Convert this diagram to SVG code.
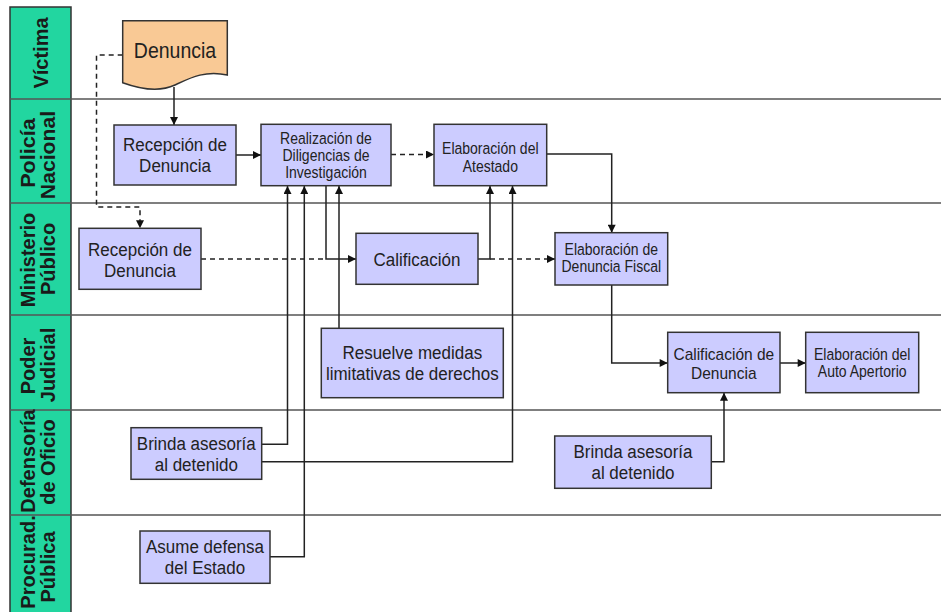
<svg xmlns="http://www.w3.org/2000/svg" width="941" height="612" viewBox="0 0 941 612">
<defs>
<style>
.lane{stroke:#555;stroke-width:1.5;fill:none}
.lbl{font-family:"Liberation Sans",Arial,sans-serif;font-weight:bold;font-size:20px;fill:#1a1a1a;text-anchor:middle}
.box{fill:#ccccff;stroke:#333;stroke-width:1.5}
.t{font-family:"Liberation Sans",Arial,sans-serif;fill:#222;text-anchor:middle}
.c{stroke:#222;stroke-width:1.5;fill:none}
.a{marker-end:url(#arr)}
.d{stroke-dasharray:5 4}
</style>
<marker id="arr" viewBox="0 0 10 10" refX="10" refY="5" markerWidth="10" markerHeight="8" markerUnits="userSpaceOnUse" orient="auto">
<path d="M0,0 L10,5 L0,10 z" fill="#111"/>
</marker>
</defs>
<rect width="941" height="612" fill="#fff"/>
<g id="lanes">
<rect x="10" y="7" width="61" height="610" fill="#22d6a0" stroke="#333" stroke-width="1.5"/>
<path class="lane" d="M10,99 H941 M10,203 H941 M10,315 H941 M10,410 H941 M10,515 H941"/>
<text class="lbl" transform="translate(48,53) rotate(-90)">Víctima</text>
<text class="lbl" transform="translate(35,153) rotate(-90) scale(1.08,1)">Policía</text>
<text class="lbl" transform="translate(55,155) rotate(-90) scale(1.06,1)">Nacional</text>
<text class="lbl" transform="translate(35,260) rotate(-90)">Ministerio</text>
<text class="lbl" transform="translate(55,259) rotate(-90)">Público</text>
<text class="lbl" transform="translate(35,366) rotate(-90)">Poder</text>
<text class="lbl" transform="translate(55,365) rotate(-90)">Judicial</text>
<text class="lbl" transform="translate(35,461) rotate(-90)">Defensoría</text>
<text class="lbl" transform="translate(55,462) rotate(-90)">de Oficio</text>
<text class="lbl" transform="translate(35,562) rotate(-90)">Procurad.</text>
<text class="lbl" transform="translate(55,567) rotate(-90)">Pública</text>
</g>
<g id="connectors">
<path class="c a" d="M174,87 V125"/>
<path class="c d a" d="M122.7,55 H96.5 V207 H140 V228.3"/>
<path class="c a" d="M236,155 H261"/>
<path class="c d a" d="M391,154.5 H434"/>
<path class="c a" d="M546.7,154 H611.7 V232.7"/>
<path class="c d" d="M201,259 H326"/>
<path class="c a" d="M326,186 V259 H356"/>
<path class="c a" d="M478,259 H490 V186"/>
<path class="c d a" d="M490,259 H555"/>
<path class="c a" d="M611.7,285 V363 H667.7"/>
<path class="c a" d="M780,363 H805.7"/>
<path class="c a" d="M711.3,461.7 H724 V392.7"/>
<path class="c a" d="M261.7,444.3 H287.5 V186"/>
<path class="c a" d="M261.7,461.7 H512.5 V186"/>
<path class="c a" d="M270,556.7 H304.3 V186"/>
<path class="c a" d="M339,328.3 V186"/>
</g>
<g id="denuncia">
<path d="M122.7,20.7 H227.3 V75 C205,70 190,78 175,85 C160,92 140,89 122.7,82.7 Z" fill="#f9c995" stroke="#333" stroke-width="1.5"/>
<text class="t" x="175" y="57" font-size="19.5" transform="matrix(1,0,0,1.12,0,-6)">Denuncia</text>
</g>
<g id="recepcion-policia">
<rect class="box" x="114" y="125" width="122" height="60"/>
<text class="t" font-size="17" transform="matrix(1,0,0,1.12,0,-18.6)"><tspan x="175" y="151.5">Recepción de</tspan><tspan x="175" y="170.5">Denuncia</tspan></text>
</g>
<g id="realizacion">
<rect class="box" x="261" y="124.3" width="130" height="61.4"/>
<text class="t" font-size="14" transform="matrix(1,0,0,1.12,0,-18.6)"><tspan x="326" y="145.5">Realización de</tspan><tspan x="326" y="160.5">Diligencias de</tspan><tspan x="326" y="175.5">Investigación</tspan></text>
</g>
<g id="atestado">
<rect class="box" x="434" y="124.3" width="112.7" height="61.4"/>
<text class="t" font-size="14" transform="matrix(1,0,0,1.12,0,-18.6)"><tspan x="490.3" y="154.5">Elaboración del</tspan><tspan x="490.3" y="170">Atestado</tspan></text>
</g>
<g id="recepcion-ministerio">
<rect class="box" x="79" y="228.3" width="122" height="61"/>
<text class="t" font-size="17" transform="matrix(1,0,0,1.12,0,-31.06)"><tspan x="140" y="256">Recepción de</tspan><tspan x="140" y="275">Denuncia</tspan></text>
</g>
<g id="calificacion">
<rect class="box" x="356" y="233.3" width="122" height="51"/>
<text class="t" x="417" y="265" font-size="17" transform="matrix(1,0,0,1.12,0,-31.06)">Calificación</text>
</g>
<g id="denuncia-fiscal">
<rect class="box" x="555" y="232.7" width="112.7" height="52.3"/>
<text class="t" font-size="14" transform="matrix(1,0,0,1.12,0,-31.06)"><tspan x="611.3" y="255">Elaboración de</tspan><tspan x="611.3" y="270.5">Denuncia Fiscal</tspan></text>
</g>
<g id="resuelve">
<rect class="box" x="321.3" y="328.3" width="182" height="69.4"/>
<text class="t" font-size="17" transform="matrix(1,0,0,1.12,0,-43.56)"><tspan x="412.3" y="359.5">Resuelve medidas</tspan><tspan x="412.3" y="378.5">limitativas de derechos</tspan></text>
</g>
<g id="calificacion-denuncia">
<rect class="box" x="667.7" y="332.3" width="112.3" height="60.4"/>
<text class="t" font-size="15.5" transform="matrix(1,0,0,1.12,0,-43.5)"><tspan x="723.8" y="360">Calificación de</tspan><tspan x="723.8" y="377">Denuncia</tspan></text>
</g>
<g id="auto-apertorio">
<rect class="box" x="805.7" y="332.3" width="113" height="60.4"/>
<text class="t" font-size="14" transform="matrix(1,0,0,1.12,0,-43.5)"><tspan x="862.2" y="360">Elaboración del</tspan><tspan x="862.2" y="375.5">Auto Apertorio</tspan></text>
</g>
<g id="brinda-1">
<rect class="box" x="131" y="427.7" width="130.7" height="51.6"/>
<text class="t" font-size="17" transform="matrix(1,0,0,1.12,0,-54.42)"><tspan x="196.3" y="450">Brinda asesoría</tspan><tspan x="196.3" y="469">al detenido</tspan></text>
</g>
<g id="brinda-2">
<rect class="box" x="554.7" y="436" width="156.6" height="52.3"/>
<text class="t" font-size="17" transform="matrix(1,0,0,1.12,0,-55.46)"><tspan x="633" y="458.5">Brinda asesoría</tspan><tspan x="633" y="477.5">al detenido</tspan></text>
</g>
<g id="asume">
<rect class="box" x="140" y="531" width="130" height="52.3"/>
<text class="t" font-size="17" transform="matrix(1,0,0,1.12,0,-66.86)"><tspan x="205" y="553.5">Asume defensa</tspan><tspan x="205" y="572.5">del Estado</tspan></text>
</g>
</svg>
